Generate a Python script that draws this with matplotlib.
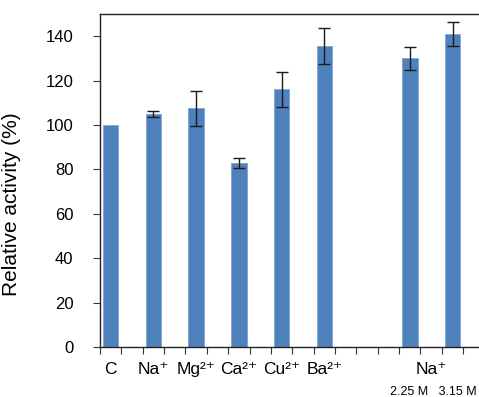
import numpy as np
import matplotlib
matplotlib.use("Agg")
import matplotlib.pyplot as plt
from matplotlib import transforms

plt.rcParams['font.family'] = ['Liberation Sans', 'DejaVu Sans']

# Excel-style category axis: blank categories interleave the bars
categories = ['C', '', 'Na⁺', '', 'Mg²⁺', '', 'Ca²⁺', '', 'Cu²⁺', '',
              'Ba²⁺', '', '', '', '', '', '', '']
values = [100, np.nan, 105, np.nan, 107.5, np.nan, 83, np.nan, 116, np.nan,
          135.5, np.nan, np.nan, np.nan, 130, np.nan, 141, np.nan]
errors = [0, np.nan, 1.2, np.nan, 8, np.nan, 2.2, np.nan, 7.8, np.nan,
          8.2, np.nan, np.nan, np.nan, 5.2, np.nan, 5.5, np.nan]
group_label = 'Na⁺'
sub_labels = ['', '', '', '', '', '', '', '', '', '', '', '', '', '', '2.25 M', '',
              '3.15 M', '']
yticks = [0, 20, 40, 60, 80, 100, 120, 140]

fig = plt.figure(figsize=(4.79, 3.97), dpi=100)
ax = fig.add_axes([100/479, 50/397, 384.6/479, 333/397])

x = np.arange(len(categories))
vals = np.array(values, dtype=float)
errs = np.array(errors, dtype=float)
mask = ~np.isnan(vals)
ax.bar(x[mask], vals[mask], width=0.72, color='#4F81BD', edgecolor='#7FA3D3',
       linewidth=0.6, zorder=2)
em = mask & (errs > 0)
ax.errorbar(x[em], vals[em], yerr=errs[em], fmt='none', ecolor='#1a1a1a',
            elinewidth=1.0, capsize=4, capthick=1.0, zorder=3)

ax.set_xlim(-0.5, len(categories) - 0.5)
ax.set_ylim(0, 150)
ax.set_yticks(yticks)
ax.set_yticklabels([str(v) for v in yticks], fontsize=12)
ax.set_xticks(np.arange(len(categories) + 1) - 0.5)
ax.set_xticklabels([])
ax.tick_params(axis='both', direction='out', length=5, width=0.8, color='#333333')
ax.tick_params(axis='y', pad=14)
for s in ['left', 'bottom', 'top']:
    ax.spines[s].set_linewidth(1.0)
    ax.spines[s].set_color('#222222')
ax.spines['right'].set_visible(False)

ax.set_ylabel('Relative activity (%)', fontsize=15)
ax.yaxis.set_label_coords(-0.205, 0.43)

trans = transforms.blended_transform_factory(ax.transData, ax.transAxes)
for i, lab in enumerate(categories):
    if lab:
        ax.text(x[i], -0.069, lab, transform=trans, ha='center', va='center', fontsize=12.5)
sub_idx = [i for i, s in enumerate(sub_labels) if s]
gx = np.mean(x[sub_idx])
ax.text(gx, -0.069, group_label, transform=trans, ha='center', va='center', fontsize=12.5)
ax.text(gx + 0.12, -0.134, '   '.join(sub_labels[i] for i in sub_idx), transform=trans,
        ha='center', va='center', fontsize=9)

fig.savefig('out.png', dpi=100)
